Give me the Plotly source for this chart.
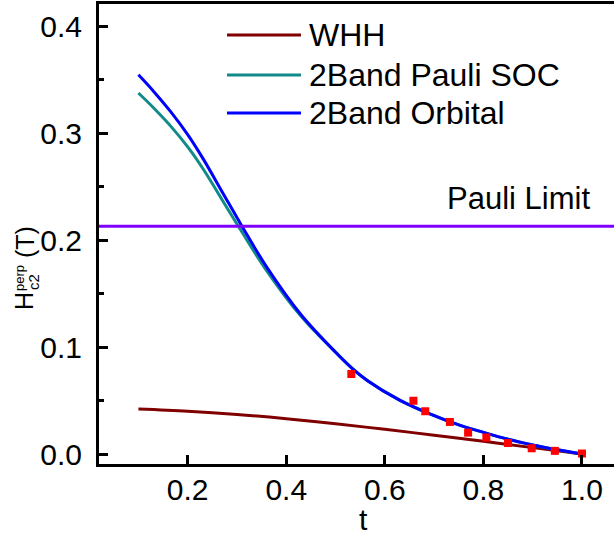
import plotly.graph_objects as go

# reduced temperature t = T/Tc
T_WHH = [0.1, 0.2, 0.3, 0.4, 0.5, 0.6, 0.7, 0.8, 0.9, 1.0]
H_WHH = [0.042, 0.040, 0.037, 0.033, 0.0283, 0.0231, 0.0176, 0.0119, 0.006, 0.0]

T_2BAND = [0.1, 0.13, 0.165, 0.2, 0.232, 0.27, 0.31, 0.36, 0.43, 0.5,
           0.533, 0.565, 0.63, 0.69, 0.75, 0.8, 0.85, 0.9, 0.95, 1.0]
H_ORBITAL = [0.3544, 0.3394, 0.3202, 0.2985, 0.2754, 0.2450, 0.2130, 0.1750, 0.1302, 0.0952,
             0.0804, 0.0686, 0.0504, 0.0378, 0.0273, 0.0203, 0.0138, 0.0085, 0.004, 0.0]
H_SOC = [0.3374, 0.3239, 0.3067, 0.2870, 0.2659, 0.2375, 0.2075, 0.1715, 0.1287, 0.0952,
         0.0804, 0.0686, 0.0504, 0.0378, 0.0273, 0.0203, 0.0138, 0.0085, 0.004, 0.0]

# measured points
T_DATA = [0.532, 0.658, 0.682, 0.732, 0.769, 0.806, 0.850, 0.898, 0.945, 1.0]
H_DATA = [0.0748, 0.0498, 0.040, 0.030, 0.020, 0.0155, 0.0103, 0.0054, 0.0030, 0.0005]

PAULI_LIMIT = 0.213

FONT = "Liberation Sans, Arial, sans-serif"
W, H = 614, 535
ML, MT, MB = 99, 4, 71

WHH_C = "#800000"
SOC_C = "#138a8a"
ORB_C = "#0000ff"

fig = go.Figure()
fig.add_trace(go.Scatter(x=T_WHH, y=H_WHH, mode="lines", name="WHH",
                         line=dict(color=WHH_C, width=3, shape="spline")))
fig.add_trace(go.Scatter(x=T_2BAND, y=H_SOC, mode="lines", name="2Band Pauli SOC",
                         line=dict(color=SOC_C, width=3, shape="spline")))
fig.add_trace(go.Scatter(x=T_2BAND, y=H_ORBITAL, mode="lines", name="2Band Orbital",
                         line=dict(color=ORB_C, width=3, shape="spline")))
fig.add_trace(go.Scatter(x=T_DATA, y=H_DATA, mode="markers", name="data",
                         marker=dict(symbol="square", size=8, color="#ff0000", line=dict(width=0))))

fig.add_shape(type="line", xref="paper", x0=0, x1=1, yref="y", y0=PAULI_LIMIT, y1=PAULI_LIMIT,
              line=dict(color="#8000ff", width=3))


def px_x(p):
    return (p - ML) / (W - ML)


def px_y(p):
    return 1 - (p - MT) / (H - MT - MB)


fig.add_annotation(text="Pauli Limit", xref="paper", yref="y", x=px_x(518), xanchor="center",
                   y=PAULI_LIMIT, yshift=28, showarrow=False, font=dict(size=31))

# hand-drawn legend so the line keys are as long as in the original
legend_rows = [("WHH", WHH_C, 35), ("2Band Pauli SOC", SOC_C, 75), ("2Band Orbital", ORB_C, 113)]
for label, color, yy in legend_rows:
    fig.add_shape(type="line", xref="paper", yref="paper", x0=px_x(227), x1=px_x(301),
                  y0=px_y(yy), y1=px_y(yy), line=dict(color=color, width=3))
    fig.add_annotation(text=label, xref="paper", yref="paper", x=px_x(307), y=px_y(yy),
                       xanchor="left", yanchor="middle", showarrow=False, font=dict(size=32))

# y title with stacked super/subscript
ytitle = [("H", 25, 24, 301), ("perp", 13, 19, 278), ("c2", 15, 33, 282), ("(T)", 25, 25, 242)]
for txt, size, cx, cy in ytitle:
    fig.add_annotation(text=txt, xref="paper", yref="paper", x=px_x(cx), y=px_y(cy),
                       xanchor="center", yanchor="middle", textangle=-90, showarrow=False,
                       font=dict(size=size))

# x title
fig.add_annotation(text="t", xref="paper", yref="paper", x=px_x(363), y=px_y(519),
                   xanchor="center", yanchor="middle", showarrow=False, font=dict(size=30))

fig.update_layout(
    width=W, height=H,
    margin=dict(l=ML, r=0, t=MT, b=MB),
    plot_bgcolor="white", paper_bgcolor="white",
    showlegend=False,
    font=dict(family=FONT, color="black"),
)
fig.update_xaxes(
    range=[0.02, 1.065], tickvals=[0.2, 0.4, 0.6, 0.8, 1.0], ticktext=["0.2", "0.4", "0.6", "0.8", "1.0"],
    showgrid=False, zeroline=False, showline=True, linecolor="black", linewidth=3, mirror=True,
    ticks="inside", ticklen=9, tickwidth=2.5, tickcolor="black", ticklabelstandoff=-3,
    tickfont=dict(size=30),
)
fig.update_yaxes(
    range=[-0.0093, 0.4206], tickvals=[0.0, 0.1, 0.2, 0.3, 0.4], ticktext=["0.0", "0.1", "0.2", "0.3", "0.4"],
    showgrid=False, zeroline=False, showline=True, linecolor="black", linewidth=3,
    ticks="inside", ticklen=9, tickwidth=2.5, tickcolor="black", ticklabelstandoff=8,
    tickfont=dict(size=30),
    minor=dict(dtick=0.05, tick0=0, ticks="inside", ticklen=5, tickwidth=2.5, tickcolor="black", showgrid=False),
)

# the page's default 8px body margin would push the figure off the window
fig.write_html("out.html", config={"displayModeBar": False},
               post_script="document.body.style.margin='0';")
